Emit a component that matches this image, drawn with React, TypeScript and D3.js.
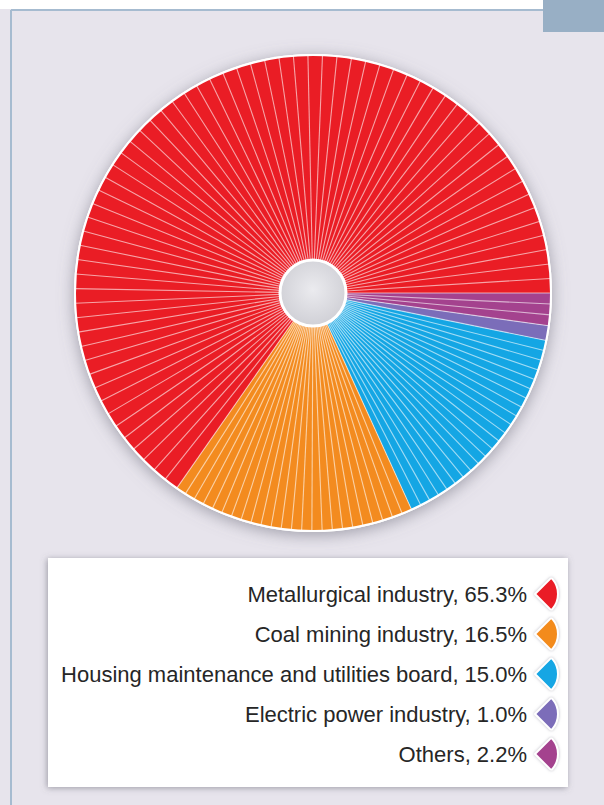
import React from "react";
import * as d3 from "d3";

const categories = [
  "Metallurgical industry",
  "Coal mining industry",
  "Housing maintenance and utilities board",
  "Electric power industry",
  "Others",
];
const shares = [65.3, 16.5, 15.0, 1.0, 2.2];
const colors = ["#ea1d25", "#f38b1f", "#14a6e4", "#7b6db9", "#a4428e"];
// order of slices clockwise starting at 3 o'clock
const pieOrder = [4, 3, 2, 1, 0];
// approximate width (degrees) of the thin stripes inside each slice
const stripDeg = [3.5, 2.45, 2.45, 2.45, 2.45];

const W = 604;
const H = 805;
const CX = 313;
const CY = 293;
const R_OUT = 238;
const R_IN = 33;

export default function App() {
  const pieGen = d3
    .pie<number>()
    .sort(null)
    .value((i) => shares[i])
    .startAngle(Math.PI / 2)
    .endAngle(Math.PI / 2 + 2 * Math.PI);
  const arcs = pieGen(pieOrder);
  const arcGen = d3.arc<any>().innerRadius(R_IN).outerRadius(R_OUT);

  const lines: number[] = [];
  arcs.forEach((a) => {
    const stripAngle = (stripDeg[a.data] * Math.PI) / 180;
    const span = a.endAngle - a.startAngle;
    const n = Math.max(1, Math.round(span / stripAngle));
    for (let k = 0; k < n; k++) lines.push(a.startAngle + (span * k) / n);
  });

  const rowY = d3
    .scalePoint<number>()
    .domain(d3.range(categories.length))
    .range([594, 754]);

  const marker = d3
    .arc<any>()
    .innerRadius(0)
    .outerRadius(23)
    .startAngle(Math.PI / 4)
    .endAngle((3 * Math.PI) / 4)
    .cornerRadius(1.5);

  return (
    <svg
      width={W}
      height={H}
      style={{ position: "absolute", left: 0, top: 0 }}
      xmlns="http://www.w3.org/2000/svg"
    >
      <defs>
        <filter id="pieShadow" x="-20%" y="-20%" width="140%" height="140%">
          <feGaussianBlur in="SourceAlpha" stdDeviation="8" />
          <feOffset dx="0" dy="3" result="b" />
          <feFlood floodColor="#6e6e7c" floodOpacity="0.6" />
          <feComposite in2="b" operator="in" />
          <feMerge>
            <feMergeNode />
            <feMergeNode in="SourceGraphic" />
          </feMerge>
        </filter>
        <filter id="boxShadow" x="-10%" y="-10%" width="120%" height="120%">
          <feGaussianBlur in="SourceAlpha" stdDeviation="3" />
          <feOffset dx="-1" dy="1" result="b" />
          <feFlood floodColor="#5f5f6c" floodOpacity="0.55" />
          <feComposite in2="b" operator="in" />
          <feMerge>
            <feMergeNode />
            <feMergeNode in="SourceGraphic" />
          </feMerge>
        </filter>
        <filter id="mkShadow" x="-40%" y="-40%" width="180%" height="180%">
          <feGaussianBlur in="SourceAlpha" stdDeviation="1.5" result="s1" />
          <feFlood floodColor="#9a9aa8" floodOpacity="0.7" />
          <feComposite in2="s1" operator="in" />
          <feMerge>
            <feMergeNode />
            <feMergeNode in="SourceGraphic" />
          </feMerge>
        </filter>
        <radialGradient id="holeGrad" cx="50%" cy="45%" r="55%">
          <stop offset="0%" stopColor="#ebebef" />
          <stop offset="100%" stopColor="#d0d0d6" />
        </radialGradient>
      </defs>

      {/* page background */}
      <rect x={0} y={0} width={W} height={H} fill="#ffffff" />
      <rect x={0} y={9} width={W} height={H - 9} fill="#e7e4ec" />
      {/* frame border */}
      <line x1={11} y1={10} x2={W} y2={10} stroke="#a6bbd0" strokeWidth={2} />
      <line x1={11} y1={10} x2={11} y2={H} stroke="#a6bbd0" strokeWidth={2} />
      {/* top right tab */}
      <rect x={543} y={0} width={W - 543} height={32} fill="#98afc5" />

      {/* pie */}
      <g transform={`translate(${CX},${CY})`}>
        <g filter="url(#pieShadow)">
          <circle r={R_OUT + 1} fill="#ffffff" />
        </g>
        {arcs.map((a, i) => (
          <path key={i} d={arcGen(a) as string} fill={colors[a.data]} />
        ))}
        {lines.map((ang, i) => (
          <line
            key={i}
            x1={R_IN * Math.sin(ang)}
            y1={-R_IN * Math.cos(ang)}
            x2={R_OUT * Math.sin(ang)}
            y2={-R_OUT * Math.cos(ang)}
            stroke="#ffffff"
            strokeOpacity={0.6}
            strokeWidth={1.1}
          />
        ))}
        <circle r={R_OUT} fill="none" stroke="#ffffff" strokeWidth={2} />
        <circle r={R_IN} fill="url(#holeGrad)" stroke="#ffffff" strokeWidth={3} />
      </g>

      {/* legend */}
      <rect
        x={48}
        y={558}
        width={520}
        height={229}
        fill="#ffffff"
        filter="url(#boxShadow)"
      />
      {categories.map((c, i) => (
        <g key={c}>
          <text
            x={527}
            y={rowY(i)}
            dy="0.35em"
            textAnchor="end"
            fontFamily="'Liberation Sans', Arial, sans-serif"
            fontSize={22}
            fill="#262626"
          >
            {`${c}, ${shares[i].toFixed(1)}%`}
          </text>
          <path
            d={marker(null) as string}
            transform={`translate(${535},${rowY(i)})`}
            fill={colors[i]}
            stroke="#ffffff"
            strokeWidth={2}
            strokeLinejoin="round"
            filter="url(#mkShadow)"
          />
        </g>
      ))}
    </svg>
  );
}
